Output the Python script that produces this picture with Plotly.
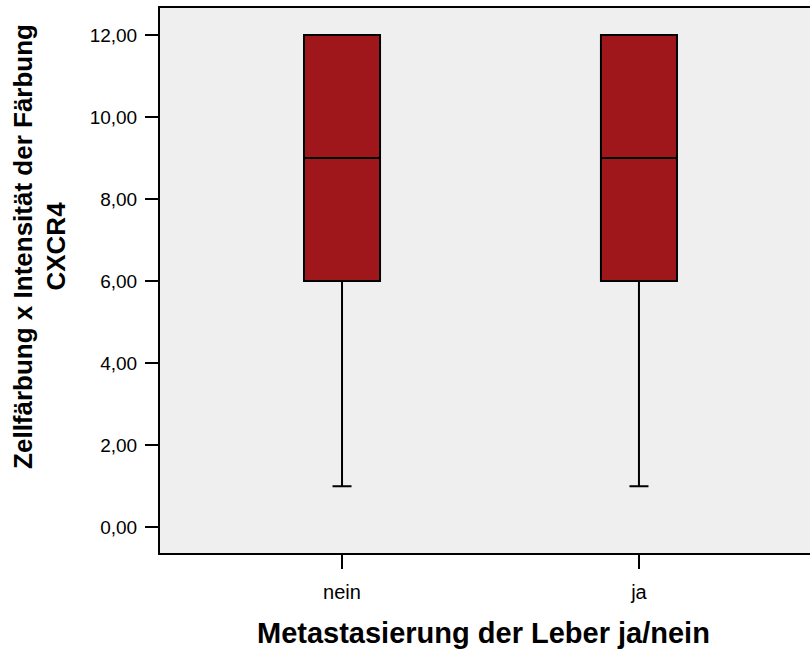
import plotly.graph_objects as go

categories = ["nein", "ja"]
q1 = [6, 6]
median = [9, 9]
q3 = [12, 12]
lower = [1, 1]
upper = [12, 12]
ytick_vals = [0, 2, 4, 6, 8, 10, 12]
ytick_text = ["0,00", "2,00", "4,00", "6,00", "8,00", "10,00", "12,00"]

FONT = "Liberation Sans, Arial, sans-serif"

fig = go.Figure()
fig.add_trace(go.Box(
    x=categories, q1=q1, median=median, q3=q3,
    lowerfence=lower, upperfence=upper,
    fillcolor="#a0171b",
    line=dict(color="black", width=2),
    width=0.256, whiskerwidth=0.25,
    boxpoints=False, showlegend=False, hoverinfo="skip",
))

fig.update_layout(
    width=810, height=650,
    margin=dict(l=160, r=0, t=8, b=97),
    paper_bgcolor="white", plot_bgcolor="#efefef",
    font=dict(family=FONT, color="black"),
    xaxis=dict(
        type="category", range=[-0.613, 1.576],
        showline=True, linecolor="black", linewidth=2, mirror=True,
        ticks="outside", ticklen=14, tickwidth=2, tickcolor="black",
        tickfont=dict(size=20), ticklabelstandoff=6,
        showgrid=False, zeroline=False,
    ),
    yaxis=dict(
        range=[-0.63, 12.66],
        tickvals=ytick_vals, ticktext=ytick_text,
        showline=True, linecolor="black", linewidth=2,
        ticks="outside", ticklen=13, tickwidth=2, tickcolor="black",
        tickfont=dict(size=19), ticklabelstandoff=4,
        showgrid=False, zeroline=False,
    ),
    annotations=[
        dict(
            text="<b>Zellfärbung x Intensität der Färbung<br>CXCR4</b>",
            xref="paper", yref="paper", x=-0.185, y=0.563,
            xanchor="center", yanchor="middle", textangle=-90,
            showarrow=False, font=dict(size=26, family=FONT),
        ),
        dict(
            text="<b>Metastasierung der Leber ja/nein</b>",
            xref="paper", yref="paper", x=0.498, y=-0.146,
            xanchor="center", yanchor="middle",
            showarrow=False, font=dict(size=29, family=FONT),
        ),
    ],
)

fig.write_html("out.html")
